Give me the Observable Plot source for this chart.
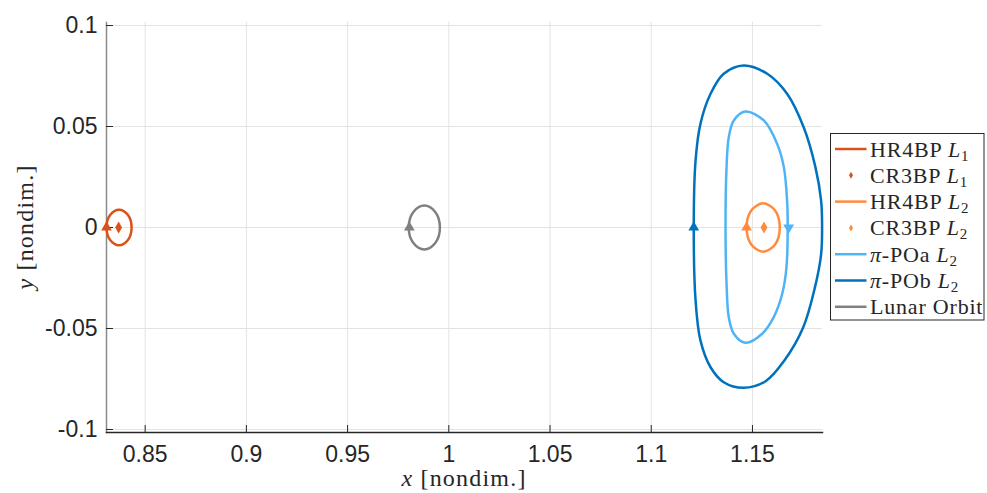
<!DOCTYPE html>
<html>
<head>
<meta charset="utf-8">
<script src="https://cdn.jsdelivr.net/npm/d3@7"></script>
<script src="https://cdn.jsdelivr.net/npm/@observablehq/plot@0.6"></script>
<style>
  html, body { margin: 0; padding: 0; background: #fff; }
  #chart { width: 987px; height: 493px; }
</style>
</head>
<body>
<div id="chart"></div>
<script>
// Axis ticks and their labels
const xTicks = [0.85, 0.9, 0.95, 1, 1.05, 1.1, 1.15];
const xTickLabels = ["0.85", "0.9", "0.95", "1", "1.05", "1.1", "1.15"];
const yTicks = [-0.1, -0.05, 0, 0.05, 0.1];
const yTickLabels = ["-0.1", "-0.05", "0", "0.05", "0.1"];
const xDomain = [0.8309, 1.1846];
const yDomain = [-0.1015, 0.1015];

// Earth–Moon CR3BP libration points
const cr3bpL1 = [0.8369, 0];
const cr3bpL2 = [1.1557, 0];

// HR4BP L1 periodic orbit (x, y)
const hr4bpL1X = [0.8371, 0.8415, 0.8433, 0.8415, 0.8371, 0.8327, 0.8309, 0.8327];
const hr4bpL1Y = [0.0088, 0.0062, 0, -0.0062, -0.0088, -0.0062, 0, 0.0062];

// HR4BP L2 periodic orbit (x, y)
const hr4bpL2X = [1.1553, 1.1611, 1.1635, 1.1611, 1.1553, 1.1495, 1.1471, 1.1495];
const hr4bpL2Y = [0.0120, 0.0085, 0, -0.0085, -0.0120, -0.0085, 0, 0.0085];

// π-POa about L2 (x, y)
const poaX = [1.1465, 1.1556, 1.1622, 1.1655, 1.1671, 1.1674, 1.1668, 1.1647, 1.1605, 1.1548, 1.1465,
              1.1408, 1.1383, 1.1372, 1.1367, 1.1372, 1.1383, 1.1408];
const poaY = [0.0574, 0.0530, 0.0414, 0.0299, 0.0134, 0, -0.0197, -0.0328, -0.0444, -0.0526, -0.0571,
              -0.0526, -0.0444, -0.0279, 0, 0.0299, 0.0447, 0.0530];

// π-POb about L2 (x, y)
const pobX = [1.1457, 1.1573, 1.1671, 1.1753, 1.1811, 1.1839, 1.1844, 1.1839, 1.1808, 1.1750, 1.1655, 1.1565, 1.1457,
              1.1358, 1.1293, 1.1243, 1.1219, 1.1210, 1.1219, 1.1243, 1.1293, 1.1358];
const pobY = [0.0802, 0.0761, 0.0662, 0.0496, 0.0299, 0.0134, 0, -0.0134, -0.0299, -0.0496, -0.0662, -0.0761, -0.0794,
              -0.0766, -0.0692, -0.0559, -0.0361, 0, 0.0332, 0.0513, 0.0662, 0.0761];

// Lunar orbit (x, y)
const lunarX = [0.9879, 0.9933, 0.9956, 0.9933, 0.9879, 0.9825, 0.9802, 0.9825];
const lunarY = [0.0109, 0.0077, 0, -0.0077, -0.0109, -0.0077, 0, 0.0077];

// Direction-of-motion arrows: x, y, direction
const arrowX = [0.8309, 1.1471, 1.1210, 1.1679, 0.9805];
const arrowY = [0, 0, 0, 0, 0];
const arrowDir = ["up", "up", "up", "down", "up"];
const arrowSeries = ["HR4BP L1", "HR4BP L2", "π-POb L2", "π-POa L2", "Lunar Orbit"];

const colors = {
  "HR4BP L1": "#D95319",
  "CR3BP L1": "#D95319",
  "HR4BP L2": "#FF8C3E",
  "CR3BP L2": "#FF8C3E",
  "π-POa L2": "#4FB4F7",
  "π-POb L2": "#0072BD",
  "Lunar Orbit": "#808080"
};

// Legend entries
const legendNames = ["HR4BP", "CR3BP", "HR4BP", "CR3BP", "π-POa", "π-POb", "Lunar Orbit"];
const legendPoint = ["1", "1", "2", "2", "2", "2", null];
const legendKind = ["line", "diamond", "line", "diamond", "line", "line", "line"];
const legendKeys = ["HR4BP L1", "CR3BP L1", "HR4BP L2", "CR3BP L2", "π-POa L2", "π-POb L2", "Lunar Orbit"];

const toPoints = (xs, ys) => xs.map((x, i) => ({x, y: ys[i]}));
const orbits = [
  {key: "HR4BP L1", pts: toPoints(hr4bpL1X, hr4bpL1Y)},
  {key: "HR4BP L2", pts: toPoints(hr4bpL2X, hr4bpL2Y)},
  {key: "π-POa L2", pts: toPoints(poaX, poaY)},
  {key: "π-POb L2", pts: toPoints(pobX, pobY)},
  {key: "Lunar Orbit", pts: toPoints(lunarX, lunarY)}
];
const arrows = arrowX.map((x, i) => ({x, y: arrowY[i], rot: arrowDir[i] === "down" ? 180 : 0, color: colors[arrowSeries[i]]}));
const xLabel = new Map(xTicks.map((t, i) => [t, xTickLabels[i]]));
const yLabel = new Map(yTicks.map((t, i) => [t, yTickLabels[i]]));

const chart = Plot.plot({
  width: 987,
  height: 493,
  marginLeft: 106,
  marginRight: 165,
  marginTop: 22,
  marginBottom: 61,
  x: {domain: xDomain},
  y: {domain: yDomain},
  style: {fontFamily: "'Liberation Sans', Arial, sans-serif", fontSize: "23px", color: "#262626", background: "#fff"},
  marks: [
    Plot.gridX(xTicks, {stroke: "#e3e3e3", strokeOpacity: 1, strokeWidth: 1}),
    Plot.gridY(yTicks, {stroke: "#e3e3e3", strokeOpacity: 1, strokeWidth: 1}),
    Plot.frame({anchor: "left", stroke: "#8a8a8a", strokeWidth: 1.5}),
    Plot.frame({anchor: "bottom", stroke: "#262626", strokeWidth: 1.5}),
    // inward-pointing tick marks
    Plot.axisX(xTicks, {tickSize: 7, dy: -7, tickFormat: () => "", label: null, stroke: "#262626"}),
    Plot.axisY(yTicks, {tickSize: 7, dx: 7, tickFormat: () => "", label: null, stroke: "#262626"}),
    Plot.axisX(xTicks, {tickSize: 0, tickPadding: 13, tickFormat: d => xLabel.get(d), label: null, fill: "#262626"}),
    Plot.axisY(yTicks, {tickSize: 0, tickPadding: 9, tickFormat: d => yLabel.get(d), label: null, fill: "#262626"}),
    ...orbits.map(o => Plot.line(o.pts, {x: "x", y: "y", curve: "catmull-rom-closed", stroke: colors[o.key], strokeWidth: 2.5})),
    Plot.dot([cr3bpL1], {x: d => d[0], y: d => d[1], symbol: "diamond", r: 3.6, fill: colors["CR3BP L1"], stroke: "none"}),
    Plot.dot([cr3bpL2], {x: d => d[0], y: d => d[1], symbol: "diamond", r: 3.6, fill: colors["CR3BP L2"], stroke: "none"}),
    Plot.dot(arrows, {x: "x", y: "y", symbol: "triangle", r: 4, rotate: "rot", fill: d => d.color, stroke: "none"})
  ]
});
document.getElementById("chart").appendChild(chart);

// Axis titles and legend
const svg = d3.select(chart);
const serif = "'Liberation Serif', 'Times New Roman', serif";

const xt = svg.append("text").attr("x", 464).attr("y", 486).attr("text-anchor", "middle")
  .attr("font-family", serif).attr("font-size", 24).attr("letter-spacing", "1.2px").attr("fill", "#262626");
xt.append("tspan").attr("font-style", "italic").text("x");
xt.append("tspan").text(" [nondim.]");

const yt = svg.append("text").attr("transform", "translate(33,227) rotate(-90)").attr("text-anchor", "middle")
  .attr("font-family", serif).attr("font-size", 24).attr("letter-spacing", "1.2px").attr("fill", "#262626");
yt.append("tspan").attr("font-style", "italic").text("y");
yt.append("tspan").text(" [nondim.]");

const lg = svg.append("g").attr("transform", "translate(830.5,133.5)");
lg.append("rect").attr("width", 153.5).attr("height", 186.5).attr("fill", "#fff").attr("stroke", "#262626").attr("stroke-width", 1);
legendNames.forEach((name, i) => {
  const cy = 15.5 + i * 26.3;
  const c = colors[legendKeys[i]];
  if (legendKind[i] === "line") {
    lg.append("line").attr("x1", 4.5).attr("x2", 36).attr("y1", cy).attr("y2", cy)
      .attr("stroke", c).attr("stroke-width", 2.5);
  } else {
    lg.append("path").attr("d", d3.symbol(d3.symbolDiamond, 14)()).attr("transform", `translate(20.5,${cy})`).attr("fill", c);
  }
  const t = lg.append("text").attr("x", 39.5).attr("y", cy + 7.5).attr("text-anchor", "start")
    .attr("font-family", serif).attr("font-size", 22).attr("letter-spacing", "0.8px").attr("fill", "#262626");
  if (name.startsWith("π")) {
    t.append("tspan").attr("font-style", "italic").text("π");
    t.append("tspan").text(name.slice(1));
  } else {
    t.append("tspan").text(name);
  }
  if (legendPoint[i]) {
    t.append("tspan").text(" ");
    t.append("tspan").attr("font-style", "italic").text("L");
    t.append("tspan").attr("font-size", 15).attr("dy", 4).text(legendPoint[i]);
  }
});
</script>
</body>
</html>
